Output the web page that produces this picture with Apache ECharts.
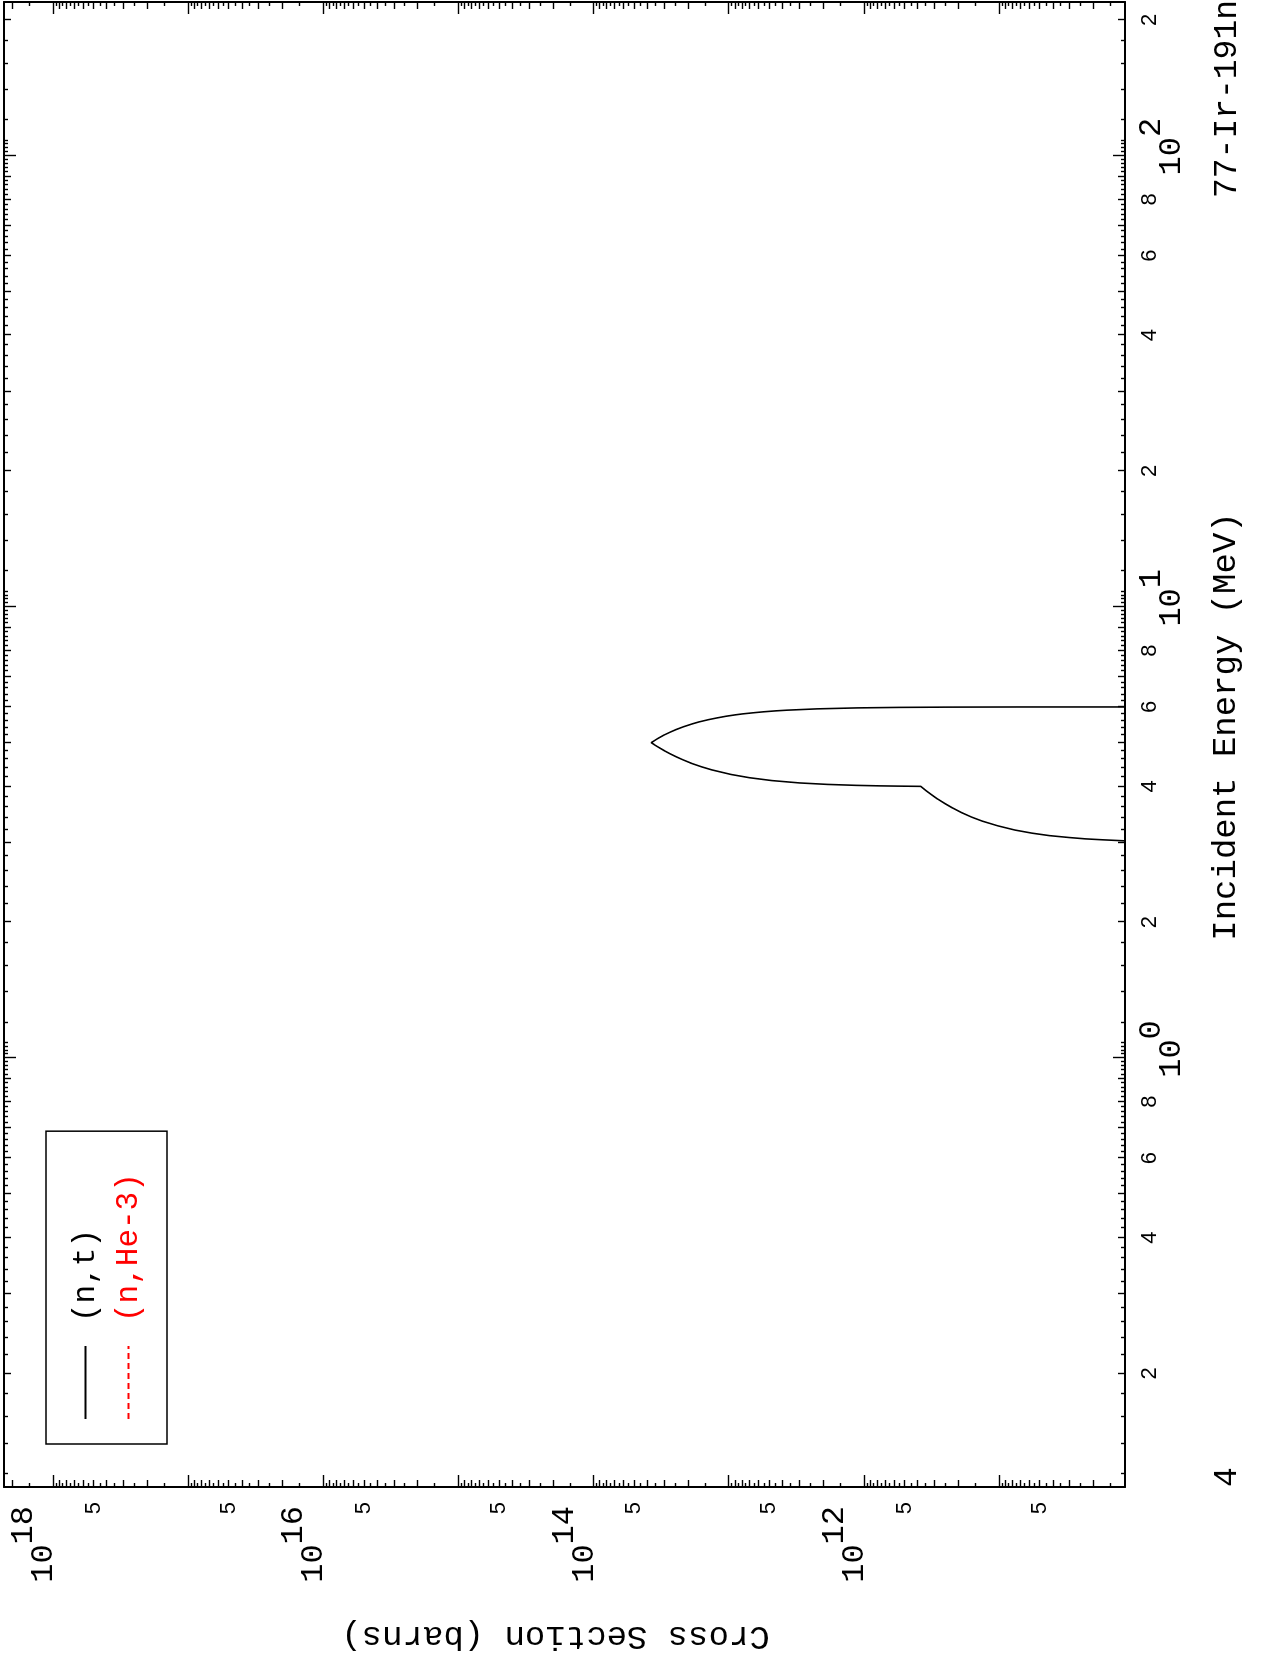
<!DOCTYPE html>
<html>
<head>
<meta charset="utf-8">
<script src="https://cdn.jsdelivr.net/npm/echarts@6/dist/echarts.min.js"></script>
<style>
html,body{margin:0;padding:0;background:#fff;overflow:hidden;width:1261px;height:1661px;}
#wrap{position:absolute;left:0;top:0;width:1661px;height:1261px;transform-origin:0 0;transform:translate(0px,1661px) rotate(-90deg);background:#fff;}
</style>
</head>
<body>
<div id="wrap"></div>
<script>
// ---- data (energy in MeV, cross section in barns) ----
const ntEnergy = [3.00, 3.03, 3.045, 3.06, 3.08, 3.11, 3.15, 3.20, 3.27, 3.35, 3.42, 3.50, 3.58, 3.66, 3.75, 3.83, 3.91, 4.00,
  4.005, 4.01, 4.02, 4.04, 4.07, 4.12, 4.18, 4.25, 4.35, 4.42, 4.50, 4.58, 4.65, 4.72, 4.80, 4.90, 4.95, 5.00,
  5.05, 5.10, 5.20, 5.27, 5.34, 5.42, 5.50, 5.56, 5.62, 5.67, 5.72, 5.76, 5.79, 5.82, 5.85, 5.88, 5.90, 5.94, 5.97, 5.985, 5.993, 5.998, 6.00];
const ntXs = [1e9, 1.2e10, 1.7e10, 2.3e10, 3.0e10, 4.2e10, 5.7e10, 7.6e10, 1.02e11, 1.33e11, 1.6e11, 1.9e11, 2.2e11, 2.5e11, 2.85e11, 3.15e11, 3.45e11, 3.8e11,
  5.6e11, 7.5e11, 1.12e12, 1.86e12, 2.97e12, 4.8e12, 7.0e12, 9.6e12, 1.33e13, 1.59e13, 1.89e13, 2.18e13, 2.44e13, 2.7e13, 3.0e13, 3.37e13, 3.56e13, 3.74e13,
  3.55e13, 3.37e13, 3.0e13, 2.73e13, 2.47e13, 2.17e13, 1.87e13, 1.65e13, 1.42e13, 1.23e13, 1.05e13, 9.0e12, 7.9e12, 6.7e12, 5.6e12, 4.5e12, 3.74e12, 2.24e12, 1.12e12, 5.6e11, 2.6e11, 7.5e10, 1e9];
const he3Energy = [];   // (n,He-3): no points drawn in the reference
const he3Xs = [];

const seriesNames = ['(n,t)', '(n,He-3)'];
const titleText = '77-Ir-191n';
const cornerText = '4';
const xName = 'Incident Energy (MeV)';
const yName = 'Cross Section (barns)';

// axis ranges
const E_MIN = 0.112, E_MAX = 219;
const XS_MIN = 1.17e10, XS_MAX = 2.3e18;

// tick values / tick labels
const eMajorTicks = [1, 10, 100];
const eMinorLabelValues = [0.2, 0.4, 0.6, 0.8, 2, 4, 6, 8, 20, 40, 60, 80, 200];
const eDecades = [0.1, 1, 10, 100];
const xsMajorTicks = [1e11, 1e12, 1e13, 1e14, 1e15, 1e16, 1e17, 1e18];
const xsMajorLabelValues = [1e12, 1e14, 1e16, 1e18];
const xsMinorLabelValues = [5e10, 5e11, 5e12, 5e13, 5e14, 5e15, 5e16, 5e17];
const xsDecades = [1e10, 1e11, 1e12, 1e13, 1e14, 1e15, 1e16, 1e17, 1e18];

// minor tick sets
function minorSet(decades, stepList, lo, hi) {
  const out = [];
  decades.forEach(d => stepList.forEach(m => { const v = +(m * d).toPrecision(6); if (v >= lo && v <= hi) out.push(v); }));
  return out;
}
const intM = [2, 3, 4, 5, 6, 7, 8, 9];
const eFineM = []; for (let k = 1; k < 50; k++) { const m = 1 + k * 0.2; if (Math.abs(m - Math.round(m)) > 1e-6) eFineM.push(+m.toFixed(1)); }
const xsHalfM = [1.5, 2.5, 3.5, 4.5, 5.5, 6.5, 7.5, 8.5, 9.5];
const eMinorLong = minorSet(eDecades, intM, E_MIN, E_MAX);
const eMinorShort = minorSet(eDecades, eFineM, E_MIN, E_MAX);
const xsMinorLong = minorSet(xsDecades, intM, XS_MIN, XS_MAX);
const xsMinorShort = minorSet(xsDecades, xsHalfM, XS_MIN, XS_MAX);

const FONT_MONO = '"Liberation Mono", "DejaVu Sans Mono", monospace';
const FONT_SANS = '"Liberation Sans", Arial, sans-serif';

function expLabel(v) { return '{b|10}{s|' + Math.round(Math.log10(v)) + '}'; }
const supRich = {
  b: { fontFamily: FONT_MONO, fontSize: 32, lineHeight: 72, verticalAlign: 'middle', color: '#000' },
  s: { fontFamily: FONT_MONO, fontSize: 32, lineHeight: 32, verticalAlign: 'top', color: '#000' }
};

function axisBase(type, min, max, pos, showLine, ticks, len, label) {
  return {
    type: 'log', logBase: 10, min: min, max: max, position: pos,
    axisLine: { show: showLine, onZero: false, lineStyle: { color: '#000', width: 2 } },
    axisTick: { show: true, inside: true, length: len, customValues: ticks, lineStyle: { color: '#000', width: 1.4 } },
    axisLabel: label || { show: false },
    splitLine: { show: false }, minorTick: { show: false }, minorSplitLine: { show: false },
    axisPointer: { show: false }
  };
}

const xAxes = [];
const yAxes = [];
['bottom', 'top'].forEach((pos) => {
  const bottom = pos === 'bottom';
  const major = axisBase('x', E_MIN, E_MAX, pos, true, eMajorTicks, 12, bottom ? {
    show: true, customValues: eMajorTicks, margin: 11, padding: [0, 0, 0, 18],
    formatter: expLabel, rich: supRich, color: '#000'
  } : null);
  if (bottom) {
    major.name = xName; major.nameLocation = 'middle'; major.nameGap = 84;
    major.nameTextStyle = { fontFamily: FONT_MONO, fontSize: 34, color: '#000', padding: [0, 0, 0, 36] };
  }
  xAxes.push(major);
  xAxes.push(axisBase('x', E_MIN, E_MAX, pos, false, eMinorLong, 7, bottom ? {
    show: true, customValues: eMinorLabelValues, margin: 14,
    formatter: v => String(Math.round(v / Math.pow(10, Math.floor(Math.log10(v) + 1e-9)))),
    fontFamily: FONT_SANS, fontSize: 22, color: '#000'
  } : null));
  xAxes.push(axisBase('x', E_MIN, E_MAX, pos, false, eMinorShort, 4, null));
});
['left', 'right'].forEach((pos) => {
  const left = pos === 'left';
  const major = axisBase('y', XS_MIN, XS_MAX, pos, true, xsMajorTicks, 12, left ? {
    show: true, customValues: xsMajorLabelValues, margin: 19, padding: [0, 0, 19, 0],
    formatter: expLabel, rich: supRich, color: '#000'
  } : null);
  if (left) {
    major.name = yName; major.nameLocation = 'middle'; major.nameGap = 132; major.nameRotate = 90;
    major.nameTextStyle = { fontFamily: FONT_MONO, fontSize: 34, color: '#000', padding: [0, 0, 0, 18] };
  }
  yAxes.push(major);
  yAxes.push(axisBase('y', XS_MIN, XS_MAX, pos, false, xsMinorLong, 7, left ? {
    show: true, customValues: xsMinorLabelValues, margin: 15, padding: [0, 0, 16, 0],
    formatter: () => '5', fontFamily: FONT_SANS, fontSize: 22, color: '#000'
  } : null));
  yAxes.push(axisBase('y', XS_MIN, XS_MAX, pos, false, xsMinorShort, 4, null));
});

const chart = echarts.init(document.getElementById('wrap'), null, { renderer: 'canvas', width: 1661, height: 1261 });
chart.setOption({
  animation: false,
  backgroundColor: '#fff',
  grid: { left: 174, top: 4, right: 2, bottom: 136, containLabel: false, outerBoundsMode: 'none' },
  xAxis: xAxes,
  yAxis: yAxes,
  legend: {
    orient: 'vertical', left: 217, top: 46, padding: [24, 42, 23, 24],
    itemWidth: 73, itemHeight: 14, itemGap: 12,
    borderColor: '#000', borderWidth: 1.5, borderRadius: 0,
    itemStyle: { opacity: 0 },
    textStyle: { fontFamily: FONT_MONO, fontSize: 31, lineHeight: 30, padding: [0, 0, 0, 19] },
    data: [
      { name: seriesNames[0], textStyle: { color: '#000' } },
      { name: seriesNames[1], textStyle: { color: '#ff0000' } }
    ]
  },
  graphic: [
    { type: 'text', right: 0, top: 1211, style: { text: titleText, fontFamily: FONT_MONO, fontSize: 33, fill: '#000' } },
    { type: 'text', left: 174, top: 1211, style: { text: cornerText, fontFamily: FONT_MONO, fontSize: 33, fill: '#000' } }
  ],
  series: [
    {
      name: seriesNames[0], type: 'line', xAxisIndex: 0, yAxisIndex: 0,
      data: ntEnergy.map((e, i) => [e, ntXs[i]]),
      symbol: 'none', showSymbol: false, clip: true,
      lineStyle: { color: '#000', width: 1.6 }, itemStyle: { color: '#000' }
    },
    {
      name: seriesNames[1], type: 'line', xAxisIndex: 0, yAxisIndex: 0,
      data: he3Energy.map((e, i) => [e, he3Xs[i]]),
      symbol: 'none', showSymbol: false, clip: true,
      lineStyle: { color: '#ff0000', width: 1.6, type: [6, 4] }, itemStyle: { color: '#ff0000' }
    }
  ]
});
</script>
</body>
</html>
